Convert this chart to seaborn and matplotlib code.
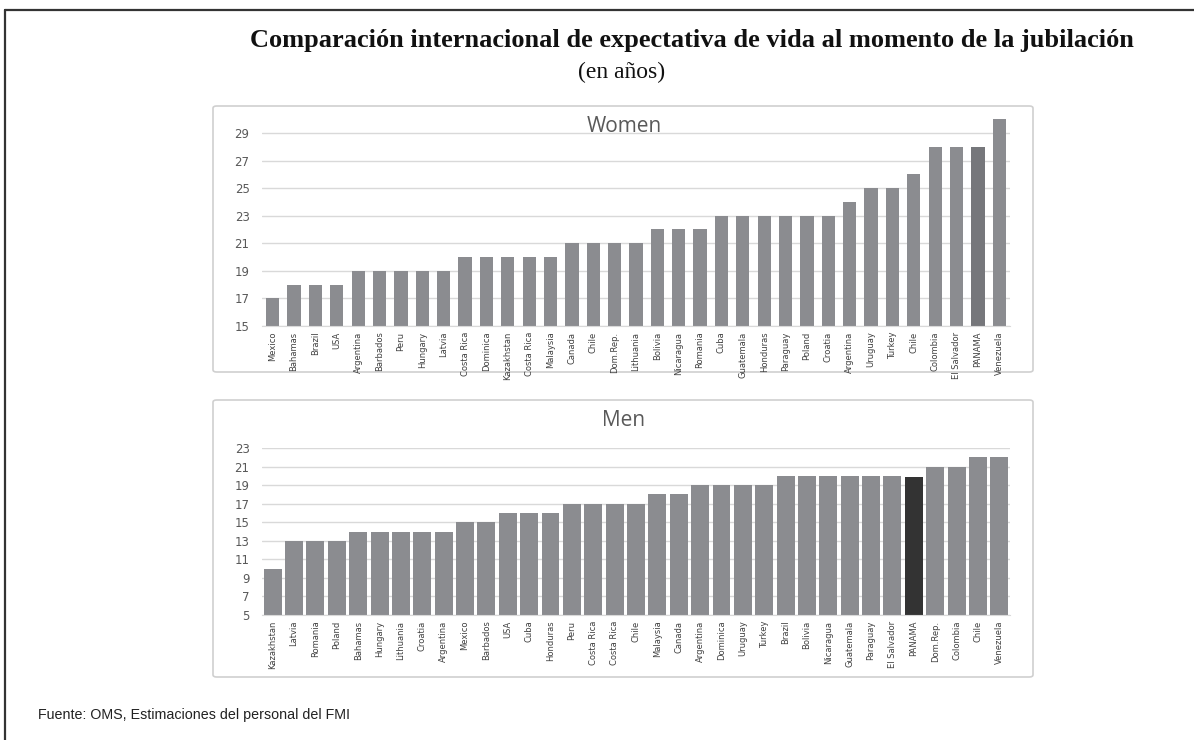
import matplotlib
matplotlib.use('Agg')
import matplotlib.pyplot as plt
import seaborn as sns
import pandas as pd
from matplotlib.patches import FancyBboxPatch
from matplotlib.lines import Line2D

# =========== data =================
women_countries = ['Mexico', 'Bahamas', 'Brazil', 'USA', 'Argentina', 'Barbados', 'Peru',
                   'Hungary', 'Latvia', 'Costa Rica', 'Dominica', 'Kazakhstan', 'Costa Rica',
                   'Malaysia', 'Canada', 'Chile', 'Dom.Rep.', 'Lithuania', 'Bolivia',
                   'Nicaragua', 'Romania', 'Cuba', 'Guatemala', 'Honduras', 'Paraguay',
                   'Poland', 'Croatia', 'Argentina', 'Uruguay', 'Turkey', 'Chile',
                   'Colombia', 'El Salvador', 'PANAMA', 'Venezuela']
women_years = [17, 18, 18, 18, 19, 19, 19, 19, 19, 20, 20, 20, 20, 20, 21, 21, 21, 21,
               22, 22, 22, 23, 23, 23, 23, 23, 23, 24, 25, 25, 26, 28, 28, 28, 30]

men_countries = ['Kazakhstan', 'Latvia', 'Romania', 'Poland', 'Bahamas', 'Hungary',
                 'Lithuania', 'Croatia', 'Argentina', 'Mexico', 'Barbados', 'USA', 'Cuba',
                 'Honduras', 'Peru', 'Costa Rica', 'Costa Rica', 'Chile', 'Malaysia',
                 'Canada', 'Argentina', 'Dominica', 'Uruguay', 'Turkey', 'Brazil',
                 'Bolivia', 'Nicaragua', 'Guatemala', 'Paraguay', 'El Salvador', 'PANAMA',
                 'Dom.Rep.', 'Colombia', 'Chile', 'Venezuela']
men_years = [10, 13, 13, 13, 14, 14, 14, 14, 14, 15, 15, 16, 16, 16, 17, 17, 17, 17, 18,
             18, 19, 19, 19, 19, 20, 20, 20, 20, 20, 20, 19.9, 21, 21, 22, 22]

women_ticks = [15, 17, 19, 21, 23, 25, 27, 29]
men_ticks = [5, 7, 9, 11, 13, 15, 17, 19, 21, 23]

# =========== style =================
sns.set_style('white')
plt.rcParams['font.family'] = ['DejaVu Sans']

bar_grey = '#8b8c90'
grid_grey = '#d9d9d9'
text_grey = '#595959'

W, H = 1194, 740
fig = plt.figure(figsize=(W / 100, H / 100), dpi=100)


def fx(px):
    return px / W


def fy(py):
    return 1 - py / H


# outer frame (top and left edge of the scanned box)
fig.add_artist(Line2D([fx(5), 1.0], [fy(10), fy(10)], color='#333333', lw=1.6))
fig.add_artist(Line2D([fx(5), fx(5)], [fy(10), 0.0], color='#333333', lw=1.6))

# chart boxes, kept behind the axes
for top, bottom in [(106, 372), (400, 677)]:
    fig.add_artist(FancyBboxPatch((fx(213), fy(bottom)), fx(1033) - fx(213), fy(top) - fy(bottom),
                                  boxstyle='round,pad=0,rounding_size=0.003',
                                  transform=fig.transFigure, fc='white', ec='#d0d0d0', lw=1.2,
                                  zorder=-5))


def draw_panel(ax, names, values, ticks, ylim, width, highlight, label):
    df = pd.DataFrame({'pos': range(len(names)), 'years': values})
    colors = [highlight if n == 'PANAMA' else bar_grey for n in names]
    sns.barplot(data=df, x='pos', y='years', hue='pos', palette=colors, legend=False,
                width=width, ax=ax, saturation=1, edgecolor='none')
    ax.set_ylim(*ylim)
    ax.set_xlim(-0.5, len(names) - 0.5)
    ax.set_yticks(ticks)
    ax.set_xticks(range(len(names)))
    ax.set_xticklabels(names, rotation=90, fontsize=6,
                       family=['Liberation Sans Narrow', 'DejaVu Sans'], color='#404040')
    ax.tick_params(axis='y', labelsize=8.5, labelcolor=text_grey, length=0, pad=9)
    ax.tick_params(axis='x', length=0, pad=4)
    ax.set_xlabel('')
    ax.set_ylabel('')
    ax.grid(axis='y', color=grid_grey, lw=1)
    ax.set_axisbelow(True)
    for s in ['top', 'right', 'left']:
        ax.spines[s].set_visible(False)
    ax.spines['bottom'].set_color(grid_grey)
    ax.patch.set_alpha(0)
    fig.text(fx(624), label[1], label[0], ha='center', va='center', fontsize=15,
             color=text_grey, family=['Open Sans', 'DejaVu Sans'])


ax_w = fig.add_axes([fx(262), fy(326), fx(1010) - fx(262), fy(119.2) - fy(326)])
draw_panel(ax_w, women_countries, women_years, women_ticks, (15, 30), 0.62, '#76777b',
           ('Women', fy(127)))

ax_m = fig.add_axes([fx(262), fy(615), fx(1010) - fx(262), fy(448) - fy(615)])
draw_panel(ax_m, men_countries, men_years, men_ticks, (5, 23), 0.84, '#333333',
           ('Men', fy(421)))

# titles
fig.text(fx(692), fy(40), 'Comparación internacional de expectativa de vida al momento de la jubilación',
         ha='center', va='center', fontsize=19, fontweight='bold',
         family=['Liberation Serif', 'DejaVu Serif'], color='#111111')
fig.text(fx(622), fy(72), '(en años)', ha='center', va='center', fontsize=17,
         family=['Liberation Serif', 'DejaVu Serif'], color='#111111')
fig.text(fx(38), fy(715), 'Fuente: OMS, Estimaciones del personal del FMI', ha='left',
         va='center', fontsize=10.3, family=['Liberation Sans', 'DejaVu Sans'], color='#222222')

fig.savefig('out.png', dpi=100)
